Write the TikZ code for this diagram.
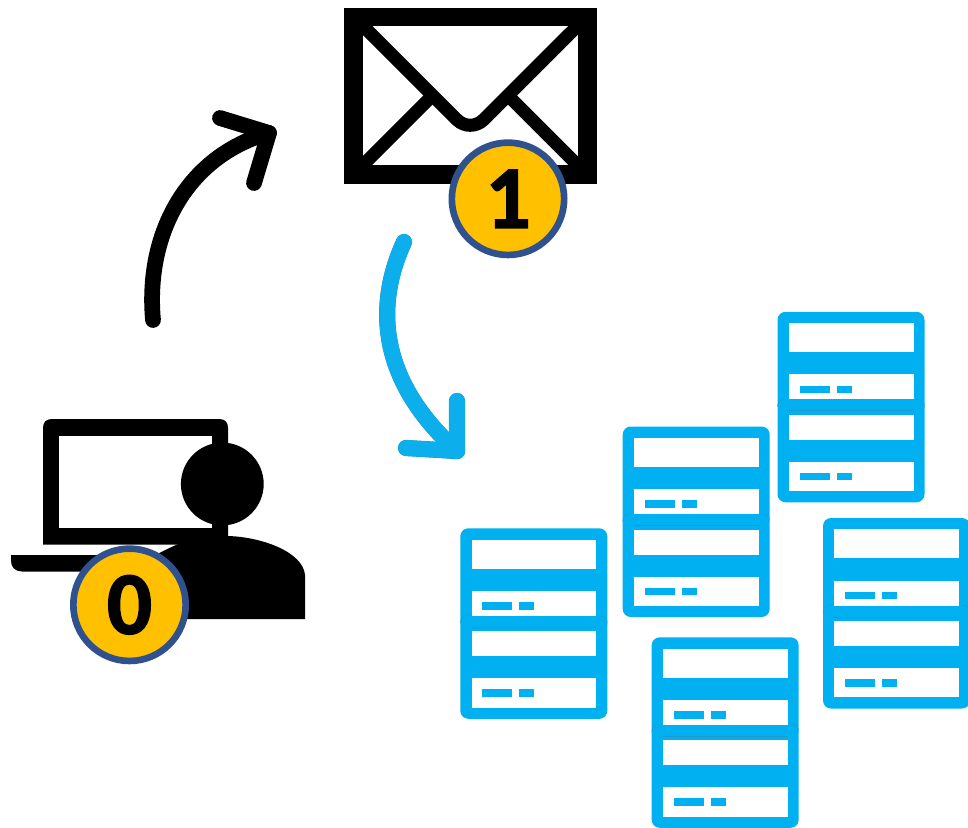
\documentclass[tikz,border=0pt]{standalone}
\usepackage{fontspec}
\setmainfont{Carlito}
\newfontfamily\badgefont[FakeBold=1.6]{Carlito Bold}
\definecolor{srvblue}{HTML}{00B0F0}
\definecolor{srvseam}{HTML}{1C9AC8}
\definecolor{arrblue}{HTML}{0CAEEC}
\definecolor{arredge}{HTML}{2196C8}
\definecolor{badgefill}{HTML}{FFC000}
\definecolor{badgeline}{HTML}{2F528F}
\tikzset{
  badge/.style={circle,draw=badgeline,line width=5pt,fill=badgefill,minimum size=84.25pt,inner sep=0pt,text=black,font=\fontsize{67}{67}\badgefont},
  bigarrow/.style={line width=11.8pt,line cap=round,line join=round},
  envline/.style={draw=black,line width=9.8pt},
  seam/.style={draw=srvseam,line width=0.3pt},
}
\newcommand{\serverstack}[3]{%
  \begin{scope}[shift={(#1,#2)}]
    \node[inner sep=0pt,minimum size=0pt] (#3) at (73.5,95) {};
    \fill[srvblue,rounded corners=6pt] (0,0) rectangle (147,190.5);
    \fill[white] (11.3,11.3) rectangle (136,40.4);
    \fill[white] (11.3,62.5) rectangle (136,87.5);
    \fill[white] (11.3,103) rectangle (136,128);
    \fill[white] (11.3,150) rectangle (136,179.3);
    \fill[srvblue] (22,73.7) rectangle (52,81.2);
    \fill[srvblue] (59,73.7) rectangle (74,81.2);
    \fill[srvblue] (22,161) rectangle (52,168.5);
    \fill[srvblue] (59,161) rectangle (74,168.5);
    \draw[seam] (11.3,98.7) -- (136,98.7);
    \draw[seam] (0,95) .. controls (0,90) and (3,87.3) .. (8,87.3);
    \draw[seam] (139,87.3) .. controls (144,87.3) and (147,90) .. (147,95);
  \end{scope}}
\begin{document}
\begin{tikzpicture}[x=0.75pt,y=-0.75pt]
\useasboundingbox (0,0) rectangle (968,828);
% laptop
\fill[black] (43,544.5) -- (43,428) .. controls (43,422) and (46,419) .. (52,419) -- (219,419) .. controls (225,419) and (228,422) .. (228,428) -- (228,544.5) -- cycle;
\fill[white] (59,436) rectangle (212,528);
\fill[black] (11,555) -- (120,555) -- (120,571.5) -- (22,571.5) .. controls (15,571.5) and (11,567) .. (11,561) -- cycle;
% person
\fill[white] (160,544.5) rectangle (228,555);
\fill[black] (222.3,484) circle[radius=41.4];
\fill[black] (212,515) rectangle (228,540);
\fill[black] (305,619) -- (305,575) .. controls (303,552) and (262,537) .. (228,536)
  -- (205,536) .. controls (190,538) and (172,546) .. (150,558) -- (150,619) -- cycle;
% envelope
\fill[black] (344,7.5) rectangle (596.5,183.5);
\fill[white] (363,26) rectangle (577.5,165);
\draw[envline] (363,165) -- (433,95);
\draw[envline] (577.5,165) -- (507.5,95);
\draw[envline,rounded corners=14pt] (363,26) -- (470.25,133) -- (577.5,26);
% badges
\node[badge] (badgeZero) at (129.5,604.8) {\raisebox{-1.5pt}{0}};
\node[badge] (badgeOne) at (508,198.8) {\raisebox{-1.5pt}{1}};
% servers
\serverstack{460.3}{528.3}{srvA}
\serverstack{622.7}{426.5}{srvB}
\serverstack{777.5}{311.8}{srvC}
\serverstack{823}{518}{srvD}
\serverstack{651.7}{637.3}{srvE}
% arrows
\coordinate (blackStart) at (153,320);
\coordinate (blackTip) at (269,133);
\coordinate (blackHeadA) at (220,118);
\coordinate (blackHeadB) at (254,183);
\draw[bigarrow,black] (blackStart) .. controls (145,230) and (190,155) .. (blackTip);
\draw[bigarrow,black] (blackHeadA) -- (blackTip) -- (blackHeadB);
\coordinate (blueStart) at (404,242);
\coordinate (blueTip) at (457,451);
\coordinate (blueHeadA) at (457,401);
\coordinate (blueHeadB) at (406,448);
\draw[bigarrow,arredge,line width=12.2pt] (blueStart) .. controls (375,305) and (378,380) .. (blueTip);
\draw[bigarrow,arredge,line width=12.2pt] (blueHeadA) -- (blueTip) -- (blueHeadB);
\draw[bigarrow,arrblue] (blueStart) .. controls (375,305) and (378,380) .. (blueTip);
\draw[bigarrow,arrblue] (blueHeadA) -- (blueTip) -- (blueHeadB);
\end{tikzpicture}
\end{document}
